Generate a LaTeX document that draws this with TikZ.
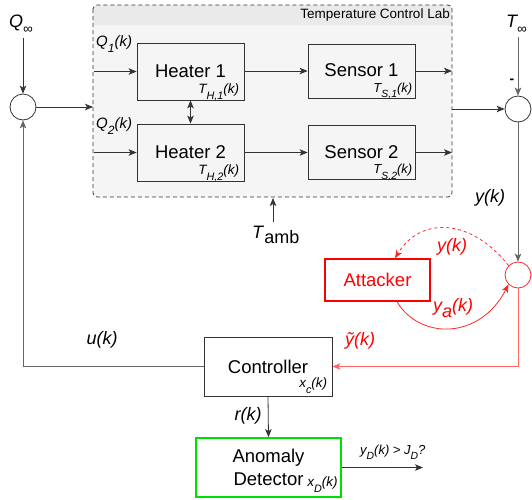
\documentclass[tikz,border=0pt]{standalone}
\usepackage{fontspec}
\usepackage{graphicx}
\setmainfont{Liberation Sans}
\usetikzlibrary{arrows.meta}
\definecolor{boxgray}{HTML}{F5F5F5}
\definecolor{headgray}{HTML}{EAEAEA}
\definecolor{linegray}{HTML}{333333}
\definecolor{midgray}{HTML}{666666}
\definecolor{atkred}{HTML}{FF0000}
\definecolor{lightred}{HTML}{FF6666}
\definecolor{detgreen}{HTML}{00E000}
\newcommand{\dsub}[1]{\raisebox{-0.42em}{\scalebox{0.8}{#1}}}
\begin{document}
\begin{tikzpicture}[x=1pt,y=-1pt,
  >={Stealth[length=8pt,width=6.5pt,inset=2pt]},
  big/.style={font=\fontsize{18.5}{23}\selectfont},
  lbl/.style={font=\fontsize{18}{21}\selectfont\itshape, inner sep=0pt},
  small/.style={font=\fontsize{13.5}{15}\selectfont\itshape, inner sep=1pt},
  blk/.style={draw=linegray, line width=0.8pt, minimum width=107pt, minimum height=57pt, fill=boxgray, big},
  sumc/.style={circle, draw=linegray, fill=white, minimum size=26pt, inner sep=0pt, line width=0.8pt},
  wire/.style={draw=linegray, line width=0.8pt},
]
\useasboundingbox (0,0) rectangle (532,499);

% container
\fill[boxgray, rounded corners=4pt] (93,5) rectangle (452,197);
\fill[headgray, rounded corners=4pt] (93,5) rectangle (452,25);
\fill[headgray] (93,15) rectangle (452,25);
\draw[linegray, line width=0.8pt, dash pattern=on 4pt off 3pt, rounded corners=4pt] (93,5) rectangle (452,197);
\node[font=\fontsize{13.5}{15}\selectfont, anchor=east, inner sep=0pt] (tcl) at (450,15) {Temperature Control Lab};

% blocks
\node[blk] (h1) at (190.5,71.5) {Heater 1};
\node[blk] (h2) at (190.5,152.5) {Heater 2};
\node[blk, minimum height=54pt] (s1) at (361.5,71) {\raisebox{1.5pt}{Sensor 1}};
\node[blk, minimum height=54pt] (s2) at (361.5,152.5) {\raisebox{1.5pt}{Sensor 2}};
\node[small, anchor=base east] (th1) at ([xshift=-4pt,yshift=7pt]h1.south east) {T\dsub{H,1}(k)};
\node[small, anchor=base east] (th2) at ([xshift=-4pt,yshift=7pt]h2.south east) {T\dsub{H,2}(k)};
\node[small, font=\fontsize{13}{15}\selectfont\itshape, anchor=base east] (ts1) at ([xshift=-2pt,yshift=6pt]s1.south east) {T\dsub{S,1}(k)};
\node[small, font=\fontsize{13}{15}\selectfont\itshape, anchor=base east] (ts2) at ([xshift=-2pt,yshift=6pt]s2.south east) {T\dsub{S,2}(k)};

\node[draw=linegray, line width=0.8pt, fill=white, minimum width=128pt, minimum height=59pt, big] (ctrl) at (268,366.5) {Controller};
\node[small, anchor=base east] (xc) at ([xshift=-4pt,yshift=9pt]ctrl.south east) {x\dsub{c}(k)};
\node[draw=detgreen, line width=1.8pt, fill=white, minimum width=145pt, minimum height=59pt, big, align=center] (det) at (268.5,467.5) {Anomaly\\Detector};
\node[small, anchor=base east] (xd) at ([xshift=-3pt,yshift=11pt]det.south east) {x\dsub{D}(k)};
\node[draw=atkred, line width=1.5pt, fill=white, minimum width=105pt, minimum height=42pt, big, text=atkred] (att) at (377.5,280) {Attacker};

% summing junctions
\node[sumc] (sumL) at (23,107) {};
\node[sumc] (sumR) at (518,109) {};
\node[sumc, draw=atkred!85] (atk) at (518,275) {};

% coordinates
\coordinate (qin) at (23,38);
\coordinate (tin) at (518,37);
\coordinate (boxL) at (93,107);
\coordinate (q1) at (94,71.5);
\coordinate (q2) at (94,152.5);
\coordinate (o1) at (452,71);
\coordinate (o2) at (452,152.5);
\coordinate (boxR) at (452,109);
\coordinate (tamb) at (273,222);
\coordinate (boxB) at (273,198);
\coordinate (cornerR) at (518,366.5);
\coordinate (cornerL) at (23,366.5);
\coordinate (dout) at (423,467.5);

% labels
\node[lbl, anchor=base west] (qlab) at (9,27) {Q\raisebox{-6pt}{\scalebox{0.75}{∞}}};
\node[lbl, anchor=base west] (tlab) at (506,27) {T\raisebox{-6pt}{\scalebox{0.75}{∞}}};
\node[font=\fontsize{15}{17}\selectfont\itshape, inner sep=0pt, anchor=base west] (q1lab) at (96,46) {Q\dsub{1}(k)};
\node[font=\fontsize{15}{17}\selectfont\itshape, inner sep=0pt, anchor=base west] (q2lab) at (96,128) {Q\dsub{2}(k)};
\node[font=\fontsize{18}{21}\selectfont, inner sep=0pt, anchor=base west] (tamblab) at (252,238) {\textit{T}\raisebox{-5pt}{amb}};
\node[lbl] (yk) at (490,198) {y(k)};
\node[lbl, text=atkred] (yk2) at (452,247) {y(k)};
\node[lbl, text=atkred, anchor=base west] (yak) at (433,311) {y\raisebox{-6pt}{a}(k)};
\node[lbl, text=atkred] (ytil) at (360,341) {ỹ(k)};
\node[lbl] (uk) at (102,340) {u(k)};
\node[lbl] (rk) at (248,416) {r(k)};
\node[font=\fontsize{13}{14}\selectfont\itshape, inner sep=0pt, anchor=base west] (ydj) at (360,454) {y\dsub{D}(k) > J\dsub{D}?};
\node[font=\fontsize{14}{15}\selectfont\bfseries, inner sep=0pt] (minus) at (512,81) {-};

% connectors
\draw[wire, ->] (qin) -- (sumL.north);
\draw[wire, ->] (sumL.east) -- (boxL);
\draw[wire, ->] (q1) -- (h1.west |- q1);
\draw[wire, ->] (q2) -- (h2.west |- q2);
\draw[wire, <->] (h1.south) -- (h2.north);
\draw[wire, ->] (h1.east |- o1) -- (s1.west |- o1);
\draw[wire, ->] (h2.east |- o2) -- (s2.west |- o2);
\draw[wire, ->] (s1.east |- o1) -- (o1);
\draw[wire, ->] (s2.east |- o2) -- (o2);
\draw[wire, ->] (boxR) -- (sumR.west);
\draw[draw=midgray, line width=0.8pt, ->] (tin) -- (sumR.north);
\draw[draw=midgray, line width=0.8pt, ->] (sumR.south) -- (atk.north);
\draw[wire, ->] (tamb) -- (boxB);
\draw[atkred!85, line width=0.8pt, dashed, ->] (atk.135) .. controls (470,217) and (420,217) .. (att.north -| 395,0);
\draw[atkred!85, line width=0.8pt, ->] (att.south -| 397,0) .. controls (420,340) and (480,340) .. (atk.225);
\draw[lightred, line width=1pt, ->] (atk.south) -- (cornerR) -- (ctrl.east);
\draw[draw=midgray, line width=1pt, ->] (ctrl.west) -- (cornerL) -- (sumL.south);
\draw[wire, ->] (ctrl.south) -- (det.north);
\draw[wire, ->] (det.east) -- (dout);
\end{tikzpicture}
\end{document}
